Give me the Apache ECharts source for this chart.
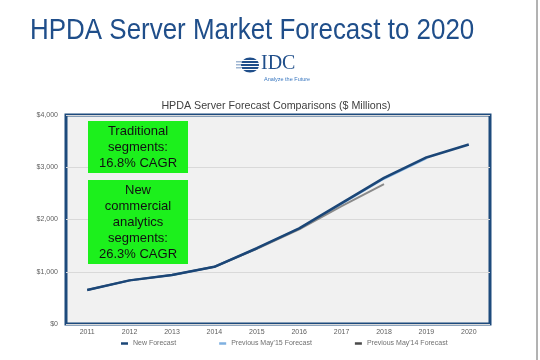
<!DOCTYPE html>
<html>
<head>
<meta charset="utf-8">
<script src="https://cdn.jsdelivr.net/npm/echarts@6/dist/echarts.min.js"></script>
<style>html,body{margin:0;padding:0;background:#fff;}#c{width:540px;height:360px;}</style>
</head>
<body>
<div id="c"></div>
<script>
var categories = ['2011','2012','2013','2014','2015','2016','2017','2018','2019','2020'];
var newForecast = [650, 835, 937, 1095, 1450, 1830, 2313, 2797, 3187, 3436];
var may15Forecast = [650, 835, 937, 1095, 1445, 1825, 2300, 2780, 3170, null];
var may14Forecast = [650, 835, 937, 1095, 1440, 1810, 2256, 2677, null, null];
var yTicks = [0, 1000, 2000, 3000, 4000];
var seriesNames = ['New Forecast', "Previous May'15 Forecast", "Previous May'14 Forecast"];
var boxTexts = ['Traditional\nsegments:\n16.8% CAGR', 'New\ncommercial\nanalytics\nsegments:\n26.3% CAGR'];
var titleText = 'HPDA Server Market Forecast to 2020';
var subtitleText = 'HPDA Server Forecast Comparisons ($ Millions)';

var chart = echarts.init(document.getElementById('c'));
var FF = 'Liberation Sans, Arial, sans-serif';
chart.setOption({
  animation: false,
  backgroundColor: '#ffffff',
  title: [{
    text: subtitleText,
    left: 271, top: 96, textAlign: 'center',
    textStyle: {color: '#404040', fontSize: 10.7, fontWeight: 'normal', fontFamily: FF}
  }],
  grid: {left: 66, top: 115, right: 50, bottom: 36, show: true, backgroundColor: '#f1f1f1', borderColor: '#1d4a7c', borderWidth: 3},
  legend: {
    top: 335, left: 116, itemGap: 43, itemWidth: 7, itemHeight: 2.5,
    icon: 'rect',
    textStyle: {color: '#707070', fontSize: 7, fontFamily: FF},
    data: seriesNames
  },
  xAxis: {
    type: 'category', data: categories, boundaryGap: true,
    axisLine: {show: false}, axisTick: {show: false},
    axisLabel: {color: '#606060', fontSize: 7, margin: 5, fontFamily: FF}
  },
  yAxis: {
    type: 'value', min: yTicks[0], max: yTicks[yTicks.length - 1], interval: 1000,
    axisLine: {show: false}, axisTick: {show: false},
    splitLine: {lineStyle: {color: '#d9d9d9', width: 1}},
    axisLabel: {color: '#606060', fontSize: 7, margin: 8, fontFamily: FF,
      formatter: function (v) { return '$' + v.toLocaleString('en-US'); }}
  },
  series: [{
    name: seriesNames[1], type: 'line', data: may15Forecast, symbol: 'none', z: 2,
    lineStyle: {color: '#7fb0e0', width: 2}, itemStyle: {color: '#7fb0e0'}
  }, {
    name: seriesNames[2], type: 'line', data: may14Forecast, symbol: 'none', z: 3,
    lineStyle: {color: '#8a8a8a', width: 2}, itemStyle: {color: '#4a4a4a'}
  }, {
    name: seriesNames[0], type: 'line', data: newForecast, symbol: 'none', z: 4,
    lineStyle: {color: '#1b4677', width: 2.5}, itemStyle: {color: '#1b4677'}
  }],
  graphic: [
    {type: 'text', x: 30, y: 16, scaleX: 0.895, style: {text: titleText, fill: '#1f4e8a', font: '29px Liberation Sans, Arial, sans-serif'}, z: 10},
    {type: 'rect', shape: {x: 88, y: 121, width: 100, height: 52}, style: {fill: '#1cf01c'}, z: 10},
    {type: 'text', x: 138, y: 147, style: {text: boxTexts[0], fill: '#111', font: '13px Liberation Sans, Arial, sans-serif', align: 'center', verticalAlign: 'middle', lineHeight: 16}, z: 11},
    {type: 'rect', shape: {x: 88, y: 180, width: 100, height: 84}, style: {fill: '#1cf01c'}, z: 10},
    {type: 'text', x: 138, y: 222, style: {text: boxTexts[1], fill: '#111', font: '13px Liberation Sans, Arial, sans-serif', align: 'center', verticalAlign: 'middle', lineHeight: 16}, z: 11},
    // IDC logo
    {type: 'ellipse', shape: {cx: 250, cy: 65, rx: 9, ry: 7.5}, style: {fill: '#1f4e8a'}, z: 10},
    {type: 'rect', shape: {x: 237, y: 60, width: 24, height: 1}, style: {fill: '#ffffff'}, z: 11},
    {type: 'rect', shape: {x: 237, y: 63, width: 24, height: 1}, style: {fill: '#ffffff'}, z: 11},
    {type: 'rect', shape: {x: 237, y: 66, width: 24, height: 1}, style: {fill: '#ffffff'}, z: 11},
    {type: 'rect', shape: {x: 237, y: 69, width: 24, height: 1}, style: {fill: '#ffffff'}, z: 11},
    {type: 'rect', shape: {x: 236, y: 61, width: 6, height: 1.5}, style: {fill: '#9fb6d2'}, z: 11},
    {type: 'rect', shape: {x: 236, y: 64, width: 5, height: 1.5}, style: {fill: '#9fb6d2'}, z: 11},
    {type: 'rect', shape: {x: 236, y: 67, width: 5, height: 1.5}, style: {fill: '#9fb6d2'}, z: 11},
    {type: 'text', x: 261, y: 54, style: {text: 'IDC', fill: '#1f4e8a', font: '20px Liberation Serif, Times New Roman, serif'}, z: 11},
    {type: 'text', x: 264, y: 76, style: {text: 'Analyze the Future', fill: '#3a78c0', font: '5.5px Liberation Sans, Arial, sans-serif'}, z: 11},
    {type: 'line', shape: {x1: 537, y1: 0, x2: 537, y2: 360}, style: {stroke: '#666', lineWidth: 1}}
  ]
});
</script>
</body>
</html>
